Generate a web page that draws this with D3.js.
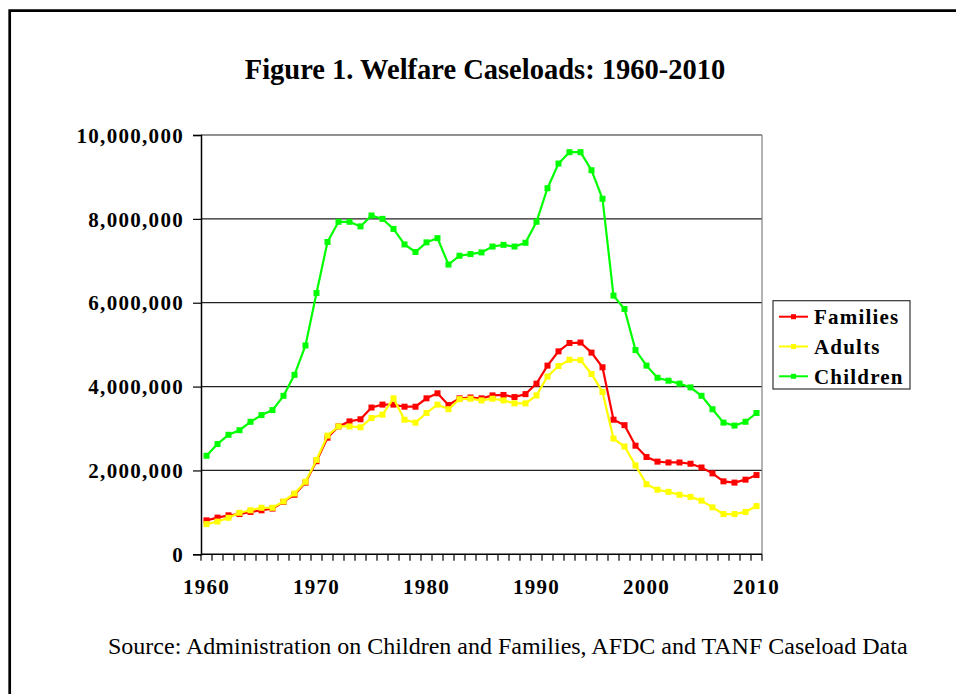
<!DOCTYPE html>
<html>
<head>
<meta charset="utf-8">
<script src="https://cdn.jsdelivr.net/npm/d3@7"></script>
<style>
  html, body { margin: 0; padding: 0; background: #fff; }
  svg { display: block; }
  text { font-family: "Liberation Serif", "Times New Roman", serif; fill: #000; }
</style>
</head>
<body>
<svg id="chart" width="956" height="694"></svg>
<script>
// ---- Data (values in millions) ----
const years = d3.range(1960, 2011);
const families = [
  0.81, 0.875, 0.93, 0.96, 1.01, 1.05, 1.09, 1.25, 1.42, 1.71,
  2.22, 2.78, 3.05, 3.17, 3.22, 3.50, 3.57, 3.57, 3.52, 3.52,
  3.72, 3.84, 3.56, 3.72, 3.74, 3.72, 3.79, 3.80, 3.75, 3.82,
  4.07, 4.50, 4.84, 5.04, 5.05, 4.81, 4.46, 3.21, 3.08, 2.59,
  2.32, 2.21, 2.19, 2.19, 2.16, 2.07, 1.93, 1.74, 1.71, 1.78,
  1.89
];
const adults = [
  0.72, 0.78, 0.87, 0.99, 1.05, 1.11, 1.11, 1.26, 1.45, 1.73,
  2.25, 2.83, 3.05, 3.05, 3.03, 3.25, 3.33, 3.72, 3.21, 3.14,
  3.37, 3.57, 3.46, 3.70, 3.71, 3.67, 3.71, 3.67, 3.60, 3.60,
  3.79, 4.24, 4.49, 4.64, 4.63, 4.30, 3.87, 2.76, 2.57, 2.12,
  1.67, 1.54, 1.49, 1.42, 1.37, 1.28, 1.12, 0.96, 0.96, 1.01,
  1.15
];
const children = [
  2.35, 2.63, 2.85, 2.96, 3.16, 3.32, 3.44, 3.78, 4.28, 4.98,
  6.23, 7.45, 7.93, 7.93, 7.82, 8.08, 8.00, 7.76, 7.39, 7.21,
  7.44, 7.54, 6.91, 7.12, 7.16, 7.20, 7.34, 7.38, 7.34, 7.43,
  7.93, 8.73, 9.32, 9.59, 9.59, 9.16, 8.48, 6.17, 5.85, 4.87,
  4.50, 4.21, 4.14, 4.07, 3.98, 3.78, 3.46, 3.14, 3.07, 3.16,
  3.37
];
const seriesNames = ["Families", "Adults", "Children"];
const seriesColors = ["#FF0000", "#FFFF00", "#00FF00"];
const yTicks = [0, 2000000, 4000000, 6000000, 8000000, 10000000];
const xLabelYears = [1960, 1970, 1980, 1990, 2000, 2010];
const titleText = "Figure 1. Welfare Caseloads: 1960-2010";
const sourceText = "Source: Administration on Children and Families, AFDC and TANF Caseload Data";

const seriesValues = [families, adults, children];

// ---- Layout ----
const svg = d3.select("#chart");
const plot = { left: 201, right: 762, top: 135, bottom: 554.3 };

const x = d3.scaleBand().domain(years).range([plot.left, plot.right]).padding(0);
const y = d3.scaleLinear().domain([0, 10000000]).range([plot.bottom, plot.top]);
const cx = d => x(d) + x.bandwidth() / 2;

// Outer frame (only left & top visible)
svg.append("path")
  .attr("d", "M9.7,700 V10.7 H960")
  .attr("fill", "none").attr("stroke", "#000").attr("stroke-width", 2.7);

// Title
svg.append("text")
  .attr("x", 485).attr("y", 79.3)
  .attr("text-anchor", "middle")
  .style("font-size", "28.5px").style("font-weight", "bold")
  .text(titleText);

// Gridlines
svg.append("g").selectAll("line")
  .data(yTicks.filter(d => d > 0))
  .join("line")
  .attr("x1", plot.left).attr("x2", plot.right)
  .attr("y1", d => y(d)).attr("y2", d => y(d))
  .attr("stroke", "#222").attr("stroke-width", 1.2);

// Plot right border
svg.append("line")
  .attr("x1", plot.right).attr("x2", plot.right)
  .attr("y1", plot.top).attr("y2", plot.bottom)
  .attr("stroke", "#808080").attr("stroke-width", 1.2);

// Y axis
const yAxis = d3.axisLeft(y).tickValues(yTicks).tickSize(8).tickPadding(9)
  .tickFormat(d3.format(","));
const gy = svg.append("g").attr("transform", `translate(${plot.left},0)`).call(yAxis);
gy.select(".domain").attr("stroke", "#000").attr("stroke-width", 1.5);
gy.selectAll(".tick line").attr("stroke", "#000").attr("stroke-width", 1.2);
gy.selectAll(".tick text")
  .attr("dy", "0.34em")
  .style("font-family", "'Liberation Serif', 'Times New Roman', serif")
  .style("font-size", "21px").style("font-weight", "bold")
  .style("letter-spacing", "1.3px").attr("fill", "#000");

// X axis baseline
svg.append("line")
  .attr("x1", plot.left).attr("x2", plot.right)
  .attr("y1", plot.bottom).attr("y2", plot.bottom)
  .attr("stroke", "#000").attr("stroke-width", 1.5);

// X tick marks at category boundaries
const boundaries = years.map(d => x(d)).concat([x(years[years.length - 1]) + x.bandwidth()]);
svg.append("g").selectAll("line")
  .data(boundaries)
  .join("line")
  .attr("x1", d => d).attr("x2", d => d)
  .attr("y1", plot.bottom).attr("y2", plot.bottom + 6.5)
  .attr("stroke", "#000").attr("stroke-width", 1.2);

// X labels
const xAxis = d3.axisBottom(x).tickValues(xLabelYears).tickSize(0).tickPadding(0);
const gx = svg.append("g").attr("transform", `translate(0,${plot.bottom})`).call(xAxis);
gx.select(".domain").remove();
gx.selectAll(".tick text")
  .attr("y", 39.7).attr("dy", 0)
  .style("font-family", "'Liberation Serif', 'Times New Roman', serif")
  .style("font-size", "21px").style("font-weight", "bold")
  .style("letter-spacing", "1.3px").attr("fill", "#000");

// Series
const line = d3.line().x((d, i) => cx(years[i])).y(d => y(d * 1e6));
seriesValues.forEach((vals, si) => {
  const g = svg.append("g");
  g.append("path")
    .datum(vals)
    .attr("d", line)
    .attr("fill", "none")
    .attr("stroke", seriesColors[si])
    .attr("stroke-width", 2.2);
  g.selectAll("rect")
    .data(vals)
    .join("rect")
    .attr("x", (d, i) => cx(years[i]) - 3)
    .attr("y", d => y(d * 1e6) - 3)
    .attr("width", 6).attr("height", 6)
    .attr("fill", seriesColors[si]);
});

// Legend
const legend = svg.append("g");
legend.append("rect")
  .attr("x", 773).attr("y", 300.7).attr("width", 137).attr("height", 88.3)
  .attr("fill", "#fff").attr("stroke", "#333").attr("stroke-width", 1.2);
const rowY = [316.7, 346.5, 376.3];
seriesNames.forEach((name, i) => {
  legend.append("line")
    .attr("x1", 779).attr("x2", 808)
    .attr("y1", rowY[i]).attr("y2", rowY[i])
    .attr("stroke", seriesColors[i]).attr("stroke-width", 2);
  legend.append("rect")
    .attr("x", 793.5 - 2.5).attr("y", rowY[i] - 2.5)
    .attr("width", 5).attr("height", 5)
    .attr("fill", seriesColors[i]);
  legend.append("text")
    .attr("x", 814).attr("y", rowY[i] + 7.6)
    .style("font-size", "21px").style("font-weight", "bold")
    .style("letter-spacing", "1.2px")
    .text(name);
});

// Source
svg.append("text")
  .attr("x", 108).attr("y", 654.3)
  .style("font-size", "24px")
  .text(sourceText);
</script>
</body>
</html>
